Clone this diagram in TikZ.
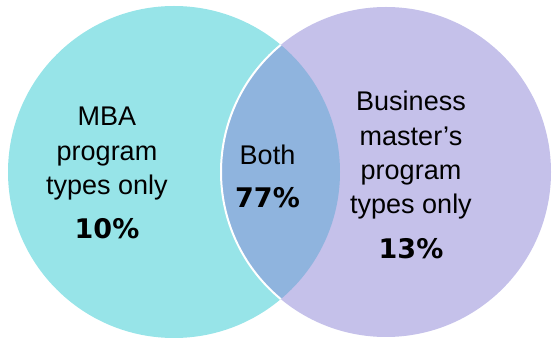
\documentclass[tikz,border=0pt]{standalone}
\usepackage{fontspec}
\setmainfont{Liberation Sans}
\newfontfamily\numfont{DejaVu Sans}
\definecolor{cyanc}{RGB}{151,228,232}
\definecolor{lavc}{RGB}{197,193,234}
\definecolor{lensc}{RGB}{143,180,222}
\begin{document}
\begin{tikzpicture}[x=1pt,y=1pt,
  txt/.style={font=\fontsize{27}{33}\selectfont, inner sep=0pt, anchor=base},
  pct/.style={font=\numfont\bfseries\fontsize{27}{33}\selectfont, inner sep=0pt, anchor=base}]
\useasboundingbox (0,0) rectangle (552,340);
\coordinate (cl) at (174,168);
\coordinate (cr) at (386,168);
\fill[cyanc] (cl) circle (166);
\fill[lavc] (cr) circle (165);
\begin{scope}
  \clip (cl) circle (166);
  \fill[lensc] (cr) circle (165);
  \draw[white, line width=2] (cr) circle (165);
\end{scope}
% left
\node[txt] (l1) at (107,214) {MBA};
\node[txt] (l2) at (107,179.3) {program};
\node[txt] (l3) at (107,145) {types only};
\node[pct] (l4) at (107,101) {10\%};
% middle
\node[txt] (m1) at (267.5,175) {Both};
\node[pct] (m2) at (267.5,132) {77\%};
% right
\node[txt] (r1) at (411,229.3) {Business};
\node[txt] (r2) at (411,194.3) {master’s};
\node[txt] (r3) at (411,160) {program};
\node[txt] (r4) at (411,126.5) {types only};
\node[pct] (r5) at (411,81) {13\%};
\end{tikzpicture}
\end{document}
